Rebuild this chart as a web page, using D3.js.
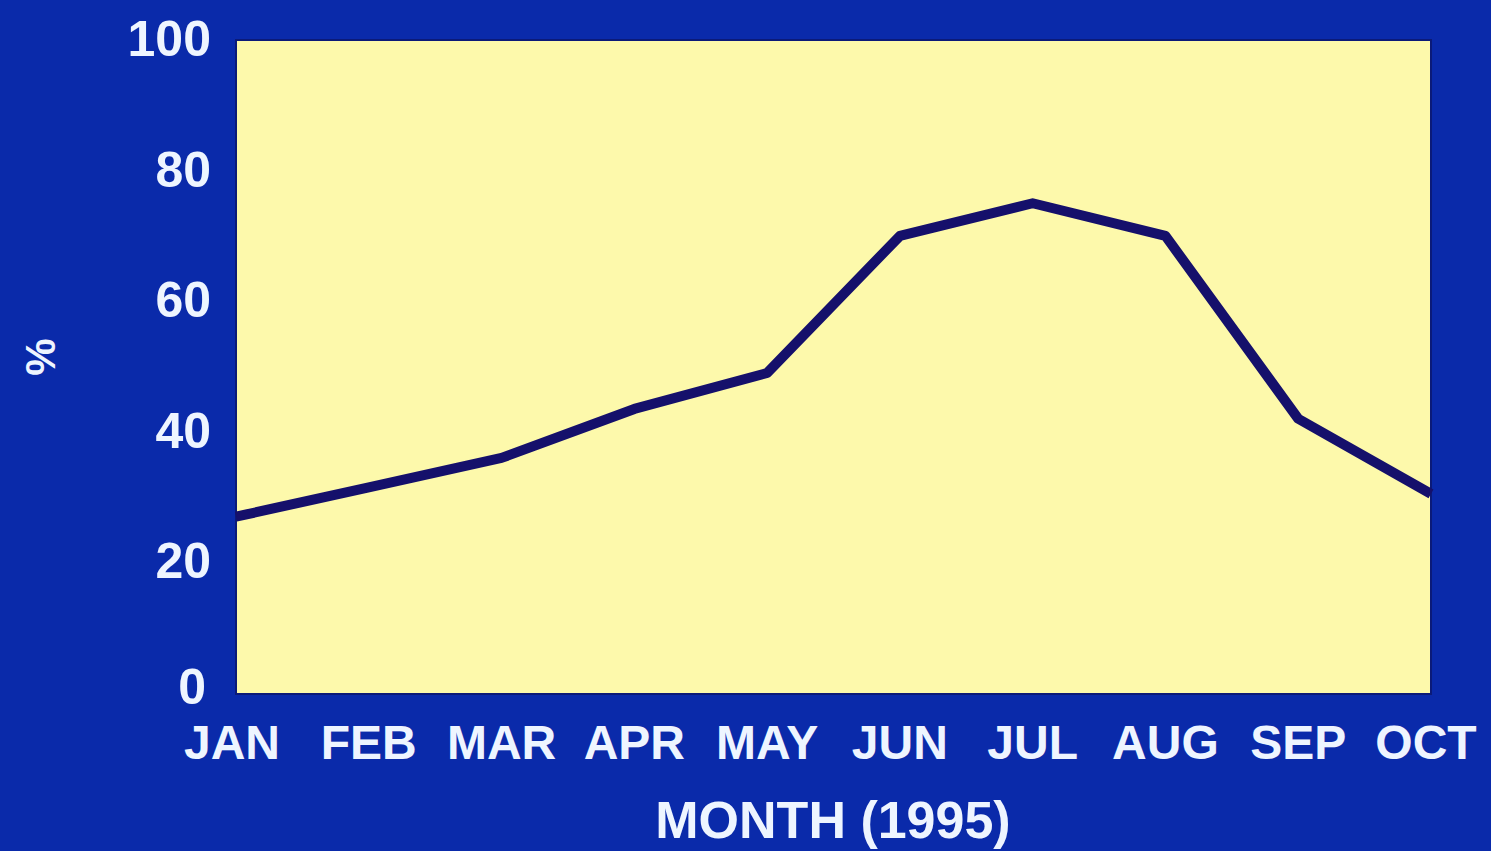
<!DOCTYPE html>
<html>
<head>
<meta charset="utf-8">
<script src="https://cdn.jsdelivr.net/npm/d3@7"></script>
<style>
  html, body { margin: 0; padding: 0; background: #0a2aaa; }
  svg { display: block; }
</style>
</head>
<body>
<script>
// data
const months = ["JAN", "FEB", "MAR", "APR", "MAY", "JUN", "JUL", "AUG", "SEP", "OCT"];
const percent = [27, 31.5, 36, 43.5, 49, 70, 75, 70, 42, 30.5];
const yTicks = [0, 20, 40, 60, 80, 100];

const width = 1491, height = 851;
const plot = { left: 236, right: 1431, top: 40, bottom: 694 };

const svg = d3.select("body").append("svg")
  .attr("width", width)
  .attr("height", height)
  .attr("font-family", "'Liberation Sans', Arial, sans-serif")
  .attr("font-weight", "bold");

svg.append("rect")
  .attr("width", width).attr("height", height)
  .attr("fill", "#0a2aaa");

const x = d3.scalePoint().domain(months).range([plot.left, plot.right]);
const y = d3.scaleLinear().domain([0, 100]).range([plot.bottom - 1, plot.top]);

// yellow plot panel
svg.append("rect")
  .attr("x", plot.left).attr("y", plot.top)
  .attr("width", plot.right - plot.left)
  .attr("height", plot.bottom - plot.top)
  .attr("fill", "#fdf9ab")
  .attr("stroke", "#0b1a78")
  .attr("stroke-width", 2);

// y tick labels
svg.append("g")
  .selectAll("text")
  .data(yTicks)
  .join("text")
  .attr("x", d => d === 0 ? 206 : 211)
  .attr("y", d => d === 0 ? y(d) + 11 : y(d) + 16)
  .attr("text-anchor", "end")
  .attr("font-size", 50)
  .attr("fill", "#eef5ff")
  .text(d => d);

// month labels
svg.append("g")
  .selectAll("text")
  .data(months)
  .join("text")
  .attr("x", d => x(d) - (d === "JAN" ? 4 : d === "OCT" ? 5 : 0))
  .attr("y", 759)
  .attr("text-anchor", "middle")
  .attr("font-size", 48)
  .attr("fill", "#eef5ff")
  .text(d => d);

// axis titles
svg.append("text")
  .attr("x", 833).attr("y", 838)
  .attr("text-anchor", "middle")
  .attr("font-size", 52)
  .attr("fill", "#eef5ff")
  .text("MONTH (1995)");

svg.append("text")
  .attr("transform", "translate(55,357) rotate(-90)")
  .attr("text-anchor", "middle")
  .attr("font-size", 42)
  .attr("fill", "#eef5ff")
  .text("%");

// the line
const line = d3.line()
  .x((d, i) => x(months[i]))
  .y(d => y(d));

svg.append("path")
  .datum(percent)
  .attr("d", line)
  .attr("fill", "none")
  .attr("stroke", "#15106b")
  .attr("stroke-width", 10)
  .attr("stroke-linejoin", "round");
</script>
</body>
</html>
